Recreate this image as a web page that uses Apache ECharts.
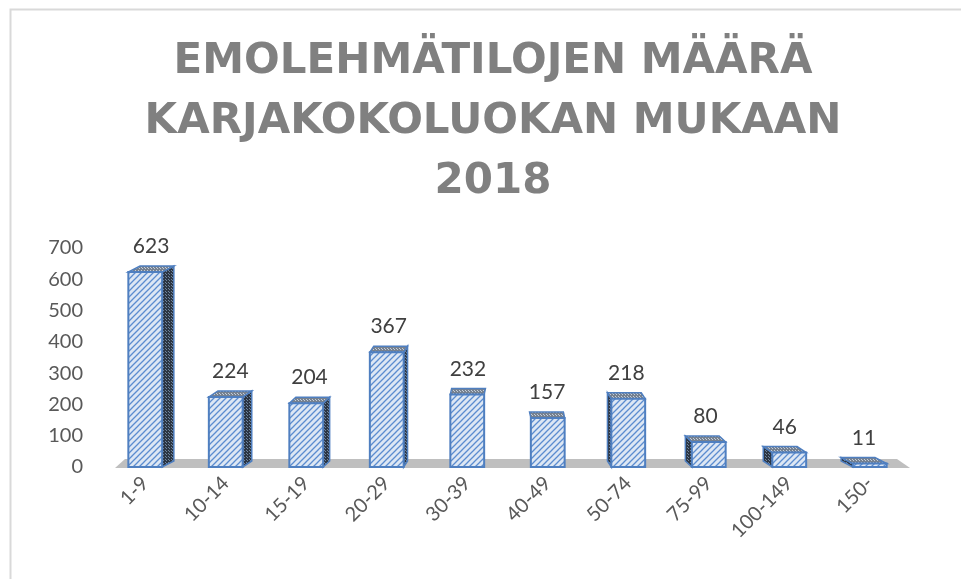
<!DOCTYPE html>
<html lang="fi">
<head>
	<meta charset="UTF-8">
	<title>Emolehmätilojen määrä</title>
	<script src="https://cdn.jsdelivr.net/npm/echarts@6/dist/echarts.min.js"></script>
	<style>
		html,body{margin:0;padding:0;background:#fff;}
		#chart{width:961px;height:579px;}
	</style>
</head>
<body>
<div id="chart"></div>
<script>
	// data
	var classes = ['1-9','10-14','15-19','20-29','30-39','40-49','50-74','75-99','100-149','150-'];
	var farms = [623,224,204,367,232,157,218,80,46,11];
	var yTicks = {min:0, max:700, step:100};

	// fills
	function hatch(){
		var c = document.createElement('canvas');
		c.width = 6; c.height = 6;
		var g = c.getContext('2d');
		g.fillStyle = '#dde7f4';
		g.fillRect(0,0,6,6);
		g.strokeStyle = '#5b8ccf';
		g.lineWidth = 1.3;
		g.beginPath();
		g.moveTo(-1,7); g.lineTo(7,-1);
		g.moveTo(-4,4); g.lineTo(4,-4);
		g.moveTo(2,10); g.lineTo(10,2);
		g.stroke();
		return {image:c, repeat:'repeat'};
	}
	function dots(bg, fg){
		var c = document.createElement('canvas');
		c.width = 3; c.height = 3;
		var g = c.getContext('2d');
		g.fillStyle = bg;
		g.fillRect(0,0,3,3);
		g.fillStyle = fg;
		g.fillRect(0,0,1,1);
		g.fillRect(1,1,1,1);
		return {image:c, repeat:'repeat'};
	}
	var frontFill = hatch();
	var sideFill = dots('#2c3643','#6f85a0');
	var topFill = dots('#76818f','#c3ccd8');
	var edge = '#4f7fc0';

	var myChart = echarts.init(document.getElementById('chart'));

	// 3D-looking column: front face, top and the side seen toward the middle
	function renderBar(params, api){
		var idx = api.value(0);
		var top = api.coord([idx, api.value(1)]);
		var base = api.coord([idx, 0]);
		var bw = api.size([1,0])[0]*0.42;
		var xl = top[0]-bw/2, xr = top[0]+bw/2;
		var d = 6;
		var sx = (4.5-idx)*2.6;
		var kids = [];
		if (Math.abs(sx) > 1.5) {
			var xs = sx > 0 ? xr : xl;
			kids.push({type:'polygon', shape:{points:[[xs,top[1]],[xs+sx,top[1]-d],[xs+sx,base[1]-d],[xs,base[1]]]},
				style:{fill:sideFill, stroke:edge, lineWidth:1.5}});
		}
		kids.push({type:'polygon', shape:{points:[[xl,top[1]],[xr,top[1]],[xr+sx,top[1]-d],[xl+sx,top[1]-d]]},
			style:{fill:topFill, stroke:edge, lineWidth:1.5}});
		kids.push({type:'rect', shape:{x:xl, y:top[1], width:bw, height:base[1]-top[1]},
			style:{fill:frontFill, stroke:edge, lineWidth:2}});
		kids.push({type:'text', x:top[0]+sx/2, y:top[1]-d-9,
			style:{text:String(api.value(1)), align:'center', verticalAlign:'bottom',
				fill:'#404040', font:'21px Lato'}});
		return {type:'group', children:kids};
	}

	function renderFloor(params, api){
		var band = api.size([1,0])[0];
		var a = api.coord([0,0]);
		var b = api.coord([classes.length-1,0]);
		var x0 = a[0]-band/2, x1 = b[0]+band/2;
		var y = a[1];
		return {type:'polygon', shape:{points:[[x0+10,y+1],[x0+20,y-8],[x1-13,y-8],[x1,y+1]]},
			style:{fill:'#bfbfbf'}};
	}

	var option = {
		animation:false,
		backgroundColor:'#fff',
		title:{
			text:'EMOLEHMÄTILOJEN MÄÄRÄ\nKARJAKOKOLUOKAN MUKAAN\n2018',
			left:488,
			top:27,
			textAlign:'center',
			textStyle:{fontFamily:'DejaVu Sans', fontWeight:'bold', fontSize:42, lineHeight:60, color:'#808080'}
		},
		graphic:[{type:'rect', left:8, top:7, shape:{width:1000, height:1000},
			style:{fill:'none', stroke:'#d9d9d9', lineWidth:2}, silent:true}],
		grid:{left:105, right:51, top:248, bottom:112},
		xAxis:{
			type:'category',
			data:classes,
			axisLine:{show:false},
			axisTick:{show:false},
			axisLabel:{rotate:45, margin:13, fontSize:20, color:'#595959', fontFamily:'Lato', interval:0}
		},
		yAxis:{
			type:'value',
			min:yTicks.min, max:yTicks.max, interval:yTicks.step,
			splitLine:{show:false},
			axisLine:{show:false},
			axisTick:{show:false},
			axisLabel:{margin:22, fontSize:20, color:'#595959', fontFamily:'Lato'}
		},
		series:[
			{type:'custom', renderItem:renderFloor, data:[[0,0]], z:1, silent:true},
			{type:'custom', renderItem:renderBar, z:2,
				data:farms.map(function(v,i){return [i,v];})}
		]
	};
	myChart.setOption(option);
</script>
</body>
</html>
